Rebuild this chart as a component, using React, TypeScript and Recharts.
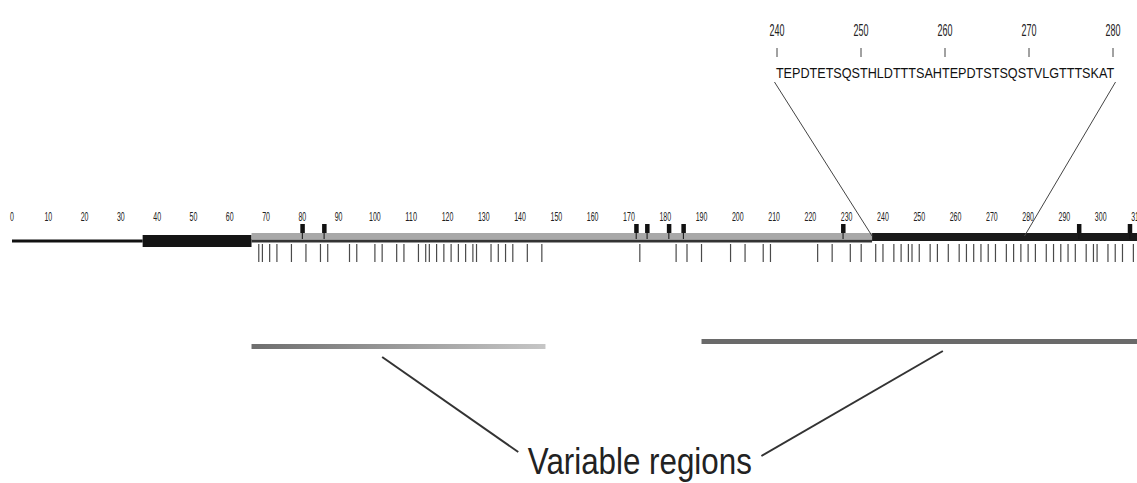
import { ComposedChart, XAxis, YAxis, Scatter, ReferenceLine, ReferenceArea } from 'recharts';

// residue numbers along the protein axis
const TICK_LABELS = [0, 10, 20, 30, 40, 50, 60, 70, 80, 90, 100, 110, 120, 130, 140, 150, 160, 170, 180, 190, 200, 210, 220, 230, 240, 250, 260, 270, 280, 290, 300, 310];
const SITES = [
  68, 69, 71, 73, 77, 81, 85, 87, 93, 95, 100, 102, 106, 108, 112, 114, 115, 117, 119, 121, 123, 125, 127, 128,
  132, 134, 136, 138, 142, 146, 173, 183, 186, 190, 198, 202, 207, 209, 222, 226, 231, 234, 238, 240, 243, 245,
  247, 248, 250, 253, 255, 258, 261, 263, 265, 267, 269, 271, 274, 276, 278, 280, 282, 285, 287, 289, 291, 293,
  296, 298, 299, 302, 304, 306, 309,
];
const PINS = [80, 86, 172, 175, 181, 185, 229, 294, 308];
const CORE_DOMAIN = [36, 66];
const GRAY_SEGMENT = [66, 237];
const DARK_SEGMENT = [237, 310];
const VARIABLE_REGIONS = [[66, 147], [190, 310]];
const ZOOM_RANGE = [237, 279];
const CALLOUT_FROM = [102, 256.5];
const CALLOUT_TO = [139.5, 206.5];
const CALLOUT_LABEL = 'Variable regions';
const CALLOUT_CENTER = 173;

// inset sequence
const SEQ_START = 240;
const SEQUENCE = 'TEPDTETSQSTHLDTTTSAHTEPDTSTSQSTVLGTTTSKAT';
const INSET_LABELS = [240, 250, 260, 270, 280];

const W = 1137;
const H = 483;
const LEFT = 12;
const MAIN_MAX = 310;
const MAIN_SCALE = (W - LEFT) / MAIN_MAX;
const INSET_SCALE = 8.4;
const INSET_MIN = SEQ_START - (777 - LEFT) / INSET_SCALE;
const INSET_DOMAIN = [INSET_MIN, INSET_MIN + (W - LEFT) / INSET_SCALE];
const insetToMain = (v: number) => ((v - INSET_DOMAIN[0]) * INSET_SCALE) / MAIN_SCALE;
const SEQ_MID = SEQ_START + (SEQUENCE.length - 1) / 2;

// vertical rows (pixels, y axis runs 0..483 top-down)
const ROW = {
  insetNum: 36,
  insetTick: 48,
  seq: 78,
  zoomTop: 82,
  label: 221,
  pin: 224,
  line: 241,
  site: 244,
  zoomBottom: 236,
  var1: 344,
  var2: 339,
  calloutTop1: 357,
  calloutTop2: 351,
  calloutBottom1: 452,
  calloutBottom2: 456,
  text: 474,
};

const FONT = "'Liberation Sans Narrow', 'Liberation Sans', Arial, sans-serif";

const labelData = TICK_LABELS.map((v) => ({ x: v, y: ROW.label }));
const siteData = SITES.map((v) => ({ x: v, y: ROW.site }));
const pinData = PINS.map((v) => ({ x: v, y: ROW.pin }));
const seqData = [{ x: SEQ_MID, y: ROW.seq }];
const insetLabelData = INSET_LABELS.map((v) => ({ x: v, y: ROW.insetNum }));
const insetTickData = INSET_LABELS.map((v) => ({ x: v, y: ROW.insetTick }));
const calloutData = [{ x: CALLOUT_CENTER, y: ROW.text }];

const TickLabel = (p: any) => {
  const s = String(p.payload.x);
  return (
    <text x={p.cx} y={p.cy} textAnchor="middle" fontSize={12} fontFamily={FONT} fill="#222"
      textLength={s.length * 3.9} lengthAdjust="spacingAndGlyphs">{s}</text>
  );
};

const SiteTick = (p: any) => (
  <line x1={p.cx} x2={p.cx} y1={p.cy} y2={p.cy + 18} stroke="#4a4a4a" strokeWidth={1.2} />
);

const Pin = (p: any) => (
  <g>
    <rect x={p.cx - 2} y={p.cy} width={4.5} height={9} fill="#111" />
    <line x1={p.cx} x2={p.cx} y1={p.cy + 9} y2={p.cy + 15} stroke="#111" strokeWidth={1} />
  </g>
);

const SeqText = (p: any) => (
  <text x={p.cx} y={p.cy} textAnchor="middle" fontSize={15} fontFamily={FONT} fill="#111"
    textLength={SEQUENCE.length * 8.25} lengthAdjust="spacingAndGlyphs">{SEQUENCE}</text>
);

const InsetLabel = (p: any) => (
  <text x={p.cx} y={p.cy} textAnchor="middle" fontSize={17} fontFamily={FONT} fill="#222"
    textLength={15} lengthAdjust="spacingAndGlyphs">{p.payload.x}</text>
);

const InsetTick = (p: any) => (
  <line x1={p.cx} x2={p.cx} y1={p.cy} y2={p.cy + 9} stroke="#444" strokeWidth={1} />
);

const CalloutText = (p: any) => (
  <text x={p.cx} y={p.cy} textAnchor="middle" fontSize={37} fontFamily={FONT} fill="#222"
    textLength={224} lengthAdjust="spacingAndGlyphs">{CALLOUT_LABEL}</text>
);

export default function App() {
  return (
    <div style={{ position: 'absolute', left: 0, top: 0, width: W, height: H, background: '#fff' }}>
      <ComposedChart width={W} height={H} margin={{ top: 0, right: 0, bottom: 0, left: LEFT }}>
        <defs>
          <linearGradient id="var1" x1="0" y1="0" x2="1" y2="0">
            <stop offset="0%" stopColor="#6e6e6e" />
            <stop offset="100%" stopColor="#c6c6c6" />
          </linearGradient>
        </defs>
        <XAxis xAxisId="main" type="number" dataKey="x" domain={[0, MAIN_MAX]} hide />
        <XAxis xAxisId="inset" type="number" dataKey="x" domain={INSET_DOMAIN} hide />
        <YAxis type="number" dataKey="y" domain={[0, H]} reversed hide />

        {/* protein backbone */}
        <ReferenceLine xAxisId="main" segment={[{ x: 0, y: ROW.line }, { x: CORE_DOMAIN[0], y: ROW.line }]}
          stroke="#111" strokeWidth={3} ifOverflow="visible" />
        <ReferenceArea xAxisId="main" x1={CORE_DOMAIN[0]} x2={CORE_DOMAIN[1]} y1={ROW.line - 6} y2={ROW.line + 6}
          fill="#141414" fillOpacity={1} ifOverflow="visible" />
        <ReferenceArea xAxisId="main" x1={GRAY_SEGMENT[0]} x2={GRAY_SEGMENT[1]} y1={ROW.line - 8} y2={ROW.line - 2}
          fill="#a8a8a8" fillOpacity={1} ifOverflow="visible" />
        <ReferenceLine xAxisId="main" segment={[{ x: GRAY_SEGMENT[0], y: ROW.line }, { x: GRAY_SEGMENT[1], y: ROW.line }]}
          stroke="#333" strokeWidth={3} ifOverflow="visible" />
        <ReferenceArea xAxisId="main" x1={DARK_SEGMENT[0]} x2={DARK_SEGMENT[1]} y1={ROW.line - 8} y2={ROW.line}
          fill="#1a1a1a" fillOpacity={1} ifOverflow="visible" />

        {/* variable regions */}
        <ReferenceArea xAxisId="main" x1={VARIABLE_REGIONS[0][0]} x2={VARIABLE_REGIONS[0][1]} y1={ROW.var1} y2={ROW.var1 + 5}
          fill="url(#var1)" fillOpacity={1} ifOverflow="visible" />
        <ReferenceArea xAxisId="main" x1={VARIABLE_REGIONS[1][0]} x2={VARIABLE_REGIONS[1][1]} y1={ROW.var2} y2={ROW.var2 + 5}
          fill="#6a6a6a" fillOpacity={1} ifOverflow="visible" />
        <ReferenceLine xAxisId="main" segment={[{ x: CALLOUT_FROM[0], y: ROW.calloutTop1 }, { x: CALLOUT_TO[0], y: ROW.calloutBottom1 }]}
          stroke="#333" strokeWidth={2} ifOverflow="visible" />
        <ReferenceLine xAxisId="main" segment={[{ x: CALLOUT_FROM[1], y: ROW.calloutTop2 }, { x: CALLOUT_TO[1], y: ROW.calloutBottom2 }]}
          stroke="#333" strokeWidth={2} ifOverflow="visible" />

        {/* zoom lines to the inset */}
        <ReferenceLine xAxisId="main" segment={[{ x: insetToMain(SEQ_START - 0.3), y: ROW.zoomTop }, { x: ZOOM_RANGE[0], y: ROW.zoomBottom }]}
          stroke="#444" strokeWidth={1} ifOverflow="visible" />
        <ReferenceLine xAxisId="main" segment={[{ x: insetToMain(SEQ_START + SEQUENCE.length - 0.7), y: ROW.zoomTop }, { x: ZOOM_RANGE[1], y: ROW.zoomBottom }]}
          stroke="#444" strokeWidth={1} ifOverflow="visible" />

        <Scatter xAxisId="main" data={labelData} shape={TickLabel} isAnimationActive={false} />
        <Scatter xAxisId="main" data={siteData} shape={SiteTick} isAnimationActive={false} />
        <Scatter xAxisId="main" data={pinData} shape={Pin} isAnimationActive={false} />
        <Scatter xAxisId="main" data={calloutData} shape={CalloutText} isAnimationActive={false} />
        <Scatter xAxisId="inset" data={insetLabelData} shape={InsetLabel} isAnimationActive={false} />
        <Scatter xAxisId="inset" data={insetTickData} shape={InsetTick} isAnimationActive={false} />
        <Scatter xAxisId="inset" data={seqData} shape={SeqText} isAnimationActive={false} />
      </ComposedChart>
    </div>
  );
}
